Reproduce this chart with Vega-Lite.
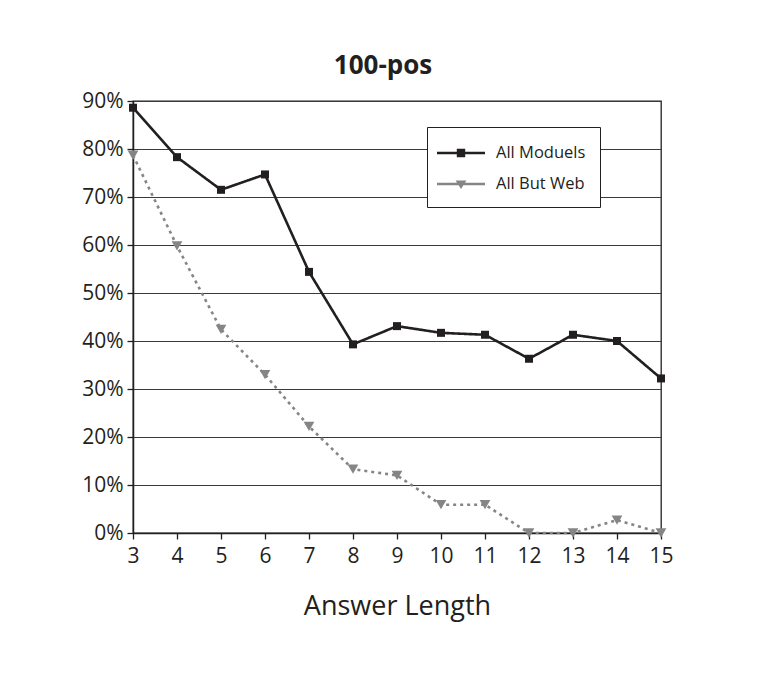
{
  "$schema": "https://vega.github.io/schema/vega-lite/v6.json",
  "width": 528,
  "height": 432,
  "autosize": {"type": "none"},
  "padding": {"left": 133, "top": 101, "right": 98, "bottom": 148},
  "background": "white",
  "title": {"text": "100-pos", "fontSize": 26, "fontWeight": "bold", "font": "Open Sans", "color": "#231f20", "anchor": "middle", "offset": 11, "dx": -14},
  "config": {
    "font": "Open Sans",
    "view": {"stroke": "#231f20", "strokeWidth": 1.3},
    "axis": {"labelFont": "Open Sans", "titleFont": "Open Sans", "labelColor": "#231f20", "titleColor": "#231f20", "domainColor": "#231f20", "tickColor": "#231f20", "domainWidth": 1.5, "tickWidth": 1.3, "tickSize": 6, "labelFontSize": 21, "titleFontSize": 27, "titleFontWeight": "normal", "labelPadding": 4, "labelFlush": false}
  },
  "data": {"values": [
    {"len": 3, "series": "All Moduels", "pct": 0.886},
    {"len": 4, "series": "All Moduels", "pct": 0.783},
    {"len": 5, "series": "All Moduels", "pct": 0.715},
    {"len": 6, "series": "All Moduels", "pct": 0.747},
    {"len": 7, "series": "All Moduels", "pct": 0.544},
    {"len": 8, "series": "All Moduels", "pct": 0.393},
    {"len": 9, "series": "All Moduels", "pct": 0.431},
    {"len": 10, "series": "All Moduels", "pct": 0.417},
    {"len": 11, "series": "All Moduels", "pct": 0.413},
    {"len": 12, "series": "All Moduels", "pct": 0.363},
    {"len": 13, "series": "All Moduels", "pct": 0.413},
    {"len": 14, "series": "All Moduels", "pct": 0.400},
    {"len": 15, "series": "All Moduels", "pct": 0.322},
    {"len": 3, "series": "All But Web", "pct": 0.787},
    {"len": 4, "series": "All But Web", "pct": 0.598},
    {"len": 5, "series": "All But Web", "pct": 0.424},
    {"len": 6, "series": "All But Web", "pct": 0.330},
    {"len": 7, "series": "All But Web", "pct": 0.222},
    {"len": 8, "series": "All But Web", "pct": 0.133},
    {"len": 9, "series": "All But Web", "pct": 0.120},
    {"len": 10, "series": "All But Web", "pct": 0.059},
    {"len": 11, "series": "All But Web", "pct": 0.059},
    {"len": 12, "series": "All But Web", "pct": 0.0},
    {"len": 13, "series": "All But Web", "pct": 0.0},
    {"len": 14, "series": "All But Web", "pct": 0.027},
    {"len": 15, "series": "All But Web", "pct": 0.0}
  ]},
  "encoding": {
    "x": {"field": "len", "type": "quantitative", "scale": {"domain": [3, 15], "nice": false, "zero": false},
      "axis": {"title": "Answer Length", "values": [3,4,5,6,7,8,9,10,11,12,13,14,15], "grid": false, "titlePadding": 27, "labelPadding": 6, "labelFlush": false}},
    "y": {"field": "pct", "type": "quantitative", "scale": {"domain": [0, 0.9], "nice": false},
      "axis": {"title": null, "format": ".0%", "values": [0,0.1,0.2,0.3,0.4,0.5,0.6,0.7,0.8,0.9], "grid": true, "gridColor": "#3a3a3a", "gridWidth": 1, "gridOpacity": 1}},
    "color": {"field": "series", "type": "nominal", "scale": {"domain": ["All Moduels", "All But Web"], "range": ["#231f20", "#858585"]},
      "legend": {
        "title": null, "orient": "none", "legendX": 294, "legendY": 26,
        "fillColor": "white", "strokeColor": "#231f20", "padding": 14,
        "labelFont": "Open Sans", "labelFontSize": 16.5, "labelColor": "#231f20",
        "symbolSize": 576, "symbolOffset": 8, "labelOffset": 23, "rowPadding": 10,
        "symbolStrokeWidth": 0, "symbolOpacity": 1
      }}
  },
  "layer": [
    {"transform": [{"filter": "datum.series === 'All Moduels'"}],
      "mark": {"type": "point", "filled": true, "opacity": 1, "shape": "square", "size": 64}},
    {"transform": [{"filter": "datum.series === 'All But Web'"}],
      "mark": {"type": "point", "filled": true, "opacity": 1, "shape": "triangle-down", "size": 115}},
    {"mark": {"type": "line", "strokeWidth": 2.6, "strokeCap": "butt"},
      "encoding": {"strokeDash": {"field": "series", "type": "nominal", "scale": {"domain": ["All Moduels", "All But Web"], "range": [[1, 0], [3, 4]]}, "legend": null}}},
    {"mark": {"type": "point", "filled": true, "opacity": 0},
      "encoding": {"shape": {"field": "series", "type": "nominal", "scale": {"domain": ["All Moduels", "All But Web"], "range": ["M-2,-0.1H2V0.1H-2ZM-0.35,-0.35H0.35V0.35H-0.35Z", "M-2,-0.1H2V0.1H-2ZM-0.45,-0.3H0.45L0,0.42Z"]}, "legend": null}}}
  ]
}
